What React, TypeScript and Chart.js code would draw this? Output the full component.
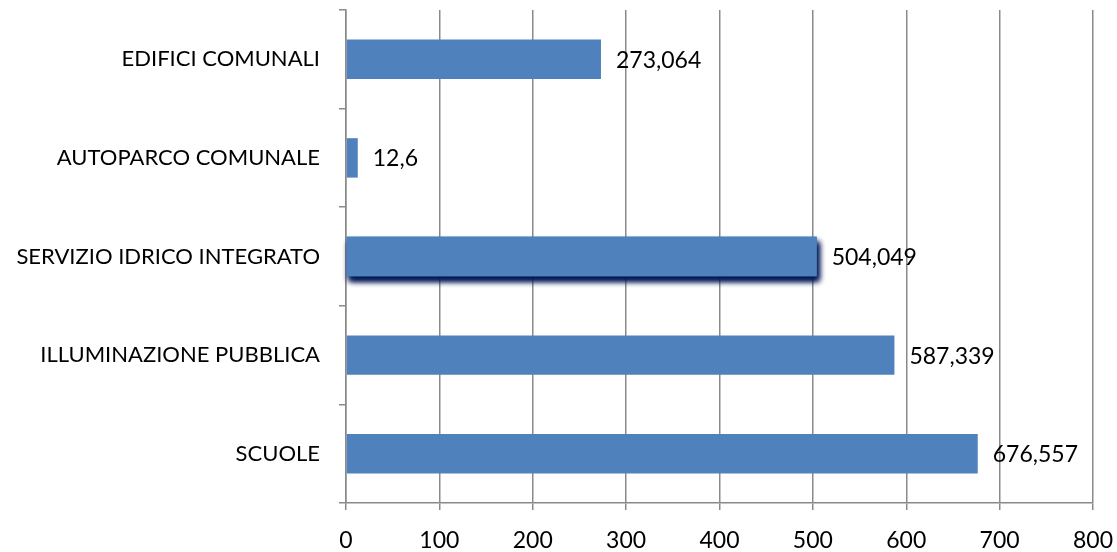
import React, { useEffect, useRef } from "react";
import { Chart, registerables } from "chart.js";

Chart.register(...registerables);

const categories = [
  "EDIFICI COMUNALI",
  "AUTOPARCO COMUNALE",
  "SERVIZIO IDRICO INTEGRATO",
  "ILLUMINAZIONE PUBBLICA",
  "SCUOLE",
];
const values = [273.064, 12.6, 504.049, 587.339, 676.557];
const valueLabels = ["273,064", "12,6", "504,049", "587,339", "676,557"];
const shadowIndex = 2;

const FONT = "Lato, 'Open Sans', sans-serif";
const GRID = "#8a8a8a";

export default function App() {
  const ref = useRef<HTMLCanvasElement | null>(null);
  useEffect(() => {
    document.body.style.margin = "0";
    const canvas = ref.current;
    if (!canvas) return;

    const shadowPlugin = {
      id: "shadowBar",
      beforeDatasetsDraw(chart: any) {
        const meta = chart.getDatasetMeta(0);
        const el = meta.data[shadowIndex];
        if (!el) return;
        const { x, y, base, height } = el.getProps(["x", "y", "base", "height"], true);
        const ctx = chart.ctx;
        ctx.save();
        ctx.shadowColor = "rgba(2, 25, 85, 1)";
        ctx.shadowBlur = 6;
        ctx.shadowOffsetX = 2;
        ctx.shadowOffsetY = 5;
        ctx.fillStyle = "#4F81BD";
        ctx.fillRect(base, y - height / 2, x - base, height);
        ctx.fillRect(base, y - height / 2, x - base, height);
        ctx.restore();
      },
    };

    const labelPlugin = {
      id: "valueLabels",
      afterDatasetsDraw(chart: any) {
        const meta = chart.getDatasetMeta(0);
        const ctx = chart.ctx;
        ctx.save();
        ctx.font = `23px ${FONT}`;
        ctx.fillStyle = "#000";
        ctx.textAlign = "left";
        ctx.textBaseline = "middle";
        meta.data.forEach((el: any, i: number) => {
          const { x, y } = el.getProps(["x", "y"], true);
          ctx.fillText(valueLabels[i], x + 15, y + 1);
        });
        ctx.restore();
      },
    };

    const chart = new Chart(canvas, {
      type: "bar",
      data: {
        labels: categories,
        datasets: [
          {
            data: values,
            backgroundColor: "#4F81BD",
            borderWidth: 0,
            categoryPercentage: 1,
            barPercentage: 0.4,
          },
        ],
      },
      options: {
        indexAxis: "y",
        animation: false,
        responsive: false,
        maintainAspectRatio: false,
        layout: { padding: { top: 10, right: 24, bottom: 0, left: 0 } },
        plugins: {
          legend: { display: false },
          tooltip: { enabled: false },
        },
        scales: {
          x: {
            min: 0,
            max: 800,
            ticks: {
              stepSize: 100,
              color: "#000",
              font: { family: FONT, size: 23 },
              padding: 17,
              maxRotation: 0,
            },
            grid: {
              color: GRID,
              lineWidth: 1.5,
              tickLength: 7,
              drawTicks: true,
            },
            border: { color: GRID, width: 1.5 },
            afterFit(scale: any) {
              scale.height = 49;
              scale.paddingLeft = 0;
              scale.paddingRight = 0;
            },
          },
          y: {
            ticks: {
              color: "#000",
              font: { family: FONT, size: 22 },
              padding: 19,
            },
            grid: {
              offset: true,
              drawOnChartArea: false,
              color: GRID,
              lineWidth: 1.5,
              tickLength: 7,
            },
            border: { color: GRID, width: 1.5 },
            afterFit(scale: any) {
              scale.width = 346;
              scale.paddingTop = 0;
              scale.paddingBottom = 0;
            },
          },
        },
      },
      plugins: [shadowPlugin, labelPlugin],
    });
    return () => chart.destroy();
  }, []);

  return (
    <div style={{ width: 1117, height: 552, background: "#fff" }}>
      <canvas ref={ref} width={1117} height={552} style={{ display: "block" }} />
    </div>
  );
}
